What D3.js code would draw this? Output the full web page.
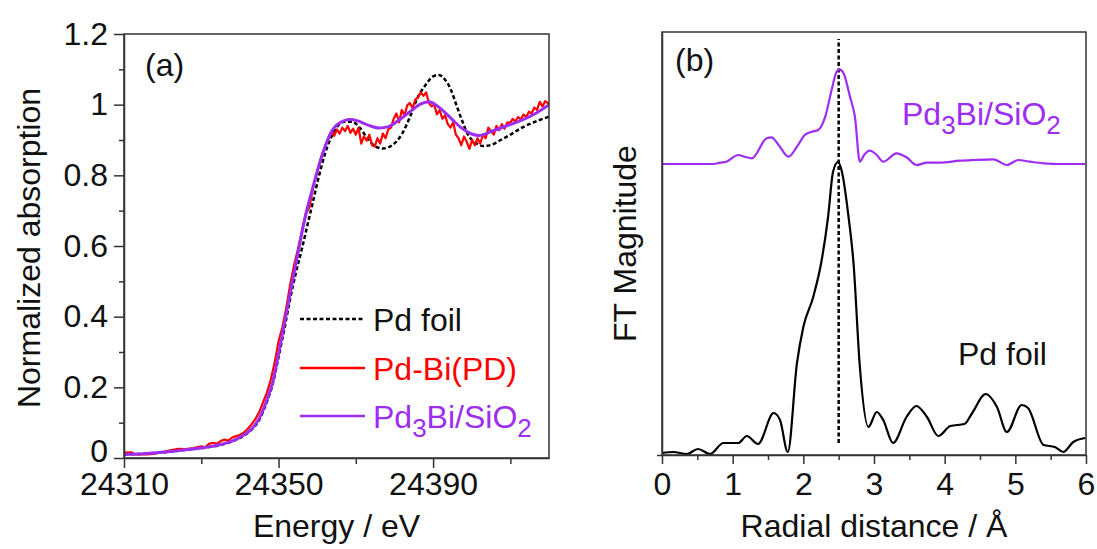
<!DOCTYPE html>
<html lang="en">
<head>
<meta charset="UTF-8">
<title>Pd K-edge XANES and FT-EXAFS</title>
<style>
  body, html { margin: 0; padding: 0; background: #fff; }
  svg { display: block; }
  text { font-family: "Liberation Sans", Arial, sans-serif; fill: #111; }
  .axis path, .axis line { stroke: #333; stroke-width: 1.5px; }
  .axis text { font-size: 32px; font-family: "Liberation Sans", Arial, sans-serif; fill: #111; }
  .frame { fill: none; stroke: #333; stroke-width: 1.5px; }
</style>
</head>
<body>
<script src="https://cdn.jsdelivr.net/npm/d3@7"></script>
<script>
// ---- panel (a): XANES ----
const foilE = [24310, 24315, 24320, 24325, 24330, 24335, 24338, 24341, 24343, 24345, 24347, 24348.5, 24350, 24351.5, 24353, 24354.5, 24356, 24357.5, 24359, 24360.5, 24362, 24363.5, 24365, 24367, 24369, 24371, 24373, 24375, 24377, 24379.5, 24382, 24384, 24386, 24388, 24390, 24391.5, 24393, 24394.5, 24396, 24397.5, 24399, 24401, 24403, 24405, 24407.5, 24410, 24413, 24416.5, 24420];
const foilMu = [0.010, 0.012, 0.016, 0.022, 0.028, 0.037, 0.047, 0.063, 0.080, 0.108, 0.160, 0.210, 0.285, 0.365, 0.450, 0.525, 0.590, 0.660, 0.730, 0.800, 0.860, 0.905, 0.935, 0.952, 0.952, 0.935, 0.905, 0.882, 0.876, 0.886, 0.918, 0.965, 1.020, 1.055, 1.080, 1.084, 1.072, 1.045, 1.000, 0.955, 0.916, 0.892, 0.883, 0.886, 0.900, 0.915, 0.935, 0.952, 0.966];

const pdbiE = [24310, 24311, 24312, 24313, 24316, 24318, 24320, 24322, 24324, 24326, 24328, 24330, 24331, 24332, 24333, 24334, 24335, 24336, 24337, 24338, 24339, 24340, 24341, 24342, 24343, 24344, 24345, 24346, 24347, 24348, 24349, 24350, 24351, 24352, 24353, 24354, 24355, 24356, 24357, 24358, 24359, 24360, 24361, 24362, 24363, 24363.7, 24364.4, 24365.1, 24365.8, 24366.5, 24367.2, 24367.9, 24368.6, 24369.3, 24370, 24370.7, 24371.4, 24372.1, 24372.8, 24373.5, 24374.2, 24374.9, 24375.6, 24376.3, 24377, 24377.7, 24378.4, 24379.1, 24379.8, 24380.5, 24381.2, 24381.9, 24382.6, 24383.3, 24384, 24384.7, 24385.4, 24386.1, 24386.8, 24387.5, 24388.2, 24388.9, 24389.6, 24390.3, 24391, 24391.7, 24392.4, 24393.1, 24393.8, 24394.5, 24395.2, 24395.9, 24396.6, 24397.3, 24398, 24398.7, 24399.4, 24400.1, 24400.8, 24401.5, 24402.2, 24402.9, 24403.6, 24404.3, 24405, 24405.7, 24406.4, 24407.1, 24407.8, 24408.5, 24409.2, 24409.9, 24410.6, 24411.3, 24412, 24412.7, 24413.4, 24414.1, 24414.8, 24415.5, 24416.2, 24416.9, 24417.6, 24418.3, 24419, 24420];
const pdbiMu = [0.016, 0.015, 0.016, 0.010, 0.010, 0.012, 0.017, 0.022, 0.026, 0.025, 0.028, 0.033, 0.030, 0.040, 0.043, 0.040, 0.048, 0.052, 0.049, 0.058, 0.062, 0.065, 0.072, 0.082, 0.095, 0.110, 0.130, 0.158, 0.185, 0.222, 0.270, 0.330, 0.370, 0.425, 0.490, 0.545, 0.590, 0.640, 0.690, 0.710, 0.770, 0.810, 0.850, 0.880, 0.905, 0.925, 0.912, 0.930, 0.918, 0.935, 0.925, 0.940, 0.920, 0.932, 0.915, 0.935, 0.890, 0.910, 0.898, 0.915, 0.885, 0.882, 0.905, 0.890, 0.918, 0.905, 0.930, 0.935, 0.960, 0.975, 0.950, 0.985, 0.970, 0.998, 1.005, 0.990, 1.015, 1.020, 1.035, 1.025, 1.035, 1.005, 0.995, 1.000, 0.972, 0.985, 0.960, 0.970, 0.945, 0.935, 0.950, 0.915, 0.905, 0.885, 0.910, 0.895, 0.875, 0.900, 0.885, 0.905, 0.890, 0.915, 0.905, 0.935, 0.925, 0.915, 0.940, 0.928, 0.945, 0.932, 0.950, 0.948, 0.960, 0.952, 0.965, 0.958, 0.972, 0.965, 0.980, 0.975, 0.992, 0.985, 1.008, 0.995, 1.010, 1.002];

const pd3biE = [24310, 24315, 24320, 24325, 24330, 24335, 24338, 24341, 24343, 24345, 24347, 24348.5, 24350, 24351.5, 24353, 24354.5, 24356, 24357.5, 24359, 24360.5, 24362, 24363.5, 24365, 24367, 24368.5, 24370.5, 24373, 24376, 24378.5, 24381, 24384, 24387, 24389, 24391, 24394, 24397, 24400, 24402, 24405, 24409, 24413, 24416.5, 24420];
const pd3biMu = [0.010, 0.012, 0.016, 0.022, 0.028, 0.038, 0.048, 0.065, 0.082, 0.112, 0.165, 0.215, 0.295, 0.380, 0.466, 0.550, 0.635, 0.710, 0.770, 0.830, 0.880, 0.920, 0.942, 0.955, 0.958, 0.954, 0.943, 0.934, 0.938, 0.955, 0.980, 1.003, 1.008, 0.997, 0.968, 0.937, 0.917, 0.913, 0.924, 0.940, 0.956, 0.975, 1.000];

const xTicksA = [24310, 24350, 24390];
const xMinorA = [24330, 24370, 24410];
const yTicksA = [0, 0.2, 0.4, 0.6, 0.8, 1.0, 1.2];
const yTickLabelsA = ["0", "0.2", "0.4", "0.6", "0.8", "1", "1.2"];
const yMinorA = [0.1, 0.3, 0.5, 0.7, 0.9, 1.1];

// ---- panel (b): FT magnitude (arbitrary units) ----
const foilR = [0.0, 0.16, 0.35, 0.51, 0.68, 0.87, 1.08, 1.20, 1.36, 1.58, 1.67, 1.78, 1.91, 2.00, 2.14, 2.26, 2.35, 2.42, 2.49, 2.54, 2.64, 2.71, 2.80, 2.92, 3.04, 3.13, 3.27, 3.46, 3.60, 3.75, 3.91, 4.08, 4.28, 4.39, 4.58, 4.74, 4.88, 5.09, 5.18, 5.40, 5.56, 5.68, 5.82, 5.99];
const foilFT = [0.02, 0.03, 0.01, 0.06, 0.01, 0.12, 0.12, 0.19, 0.11, 0.42, 0.35, 0.03, 0.92, 1.28, 1.58, 1.95, 2.38, 2.83, 2.93, 2.85, 2.38, 1.92, 0.88, 0.28, 0.43, 0.35, 0.12, 0.38, 0.49, 0.38, 0.19, 0.29, 0.31, 0.42, 0.61, 0.48, 0.23, 0.50, 0.47, 0.10, 0.08, 0.03, 0.13, 0.17];

const pd3biR = [0.0, 0.73, 0.82, 0.91, 1.08, 1.17, 1.27, 1.48, 1.55, 1.65, 1.79, 1.91, 2.02, 2.12, 2.21, 2.31, 2.40, 2.47, 2.51, 2.57, 2.66, 2.73, 2.80, 2.86, 2.94, 3.04, 3.13, 3.32, 3.46, 3.60, 3.75, 3.93, 4.22, 4.41, 4.69, 4.88, 5.04, 5.21, 5.40, 5.63, 5.99];
const pd3biFT = [0.0, 0.0, 0.013, 0.023, 0.09, 0.073, 0.057, 0.257, 0.267, 0.19, 0.073, 0.173, 0.29, 0.323, 0.34, 0.473, 0.74, 0.923, 0.947, 0.907, 0.673, 0.473, 0.023, 0.09, 0.133, 0.09, 0.023, 0.107, 0.067, -0.01, 0.013, 0.013, 0.033, 0.04, 0.047, -0.01, 0.04, 0.023, 0.007, 0.0, 0.0];
const pd3biOffset = 2.91;

const peakLine = { r: 2.5, y0: 0.12, y1: 4.16 };

const xTicksB = [0, 1, 2, 3, 4, 5, 6];
const xMinorB = [0.5, 1.5, 2.5, 3.5, 4.5, 5.5];

const black = "#000", red = "#ff0000", purple = "#9d2ef0";

const svg = d3.select("body").append("svg")
    .attr("width", 1097).attr("height", 549);

// ================= panel (a) =================
const A = { l: 124, r: 549, t: 34, b: 458 };
const xA = d3.scaleLinear().domain([24310, 24420]).range([A.l, A.r]);
const yA = d3.scaleLinear().domain([0, 1.2]).range([A.b, A.t]);

svg.append("defs").append("clipPath").attr("id", "clipA")
  .append("rect").attr("x", A.l).attr("y", A.t).attr("width", A.r - A.l).attr("height", A.b - A.t);
svg.select("defs").append("clipPath").attr("id", "clipB")
  .append("rect").attr("x", 662).attr("y", 32).attr("width", 424).attr("height", 423);

const lineA = d3.line().x(d => xA(d[0])).y(d => yA(d[1]));
const gA = svg.append("g").attr("clip-path", "url(#clipA)");

gA.append("path").datum(d3.zip(foilE, foilMu))
    .attr("fill", "none").attr("stroke", black).attr("stroke-width", 2.5)
    .attr("stroke-dasharray", "4,2.5")
    .attr("d", lineA.curve(d3.curveMonotoneX));
gA.append("path").datum(d3.zip(pdbiE, pdbiMu))
    .attr("fill", "none").attr("stroke", red).attr("stroke-width", 2.2)
    .attr("stroke-linejoin", "round")
    .attr("d", d3.line().x(d => xA(d[0])).y(d => yA(d[1])).curve(d3.curveLinear));
gA.append("path").datum(d3.zip(pd3biE, pd3biMu))
    .attr("fill", "none").attr("stroke", purple).attr("stroke-width", 3)
    .attr("d", lineA.curve(d3.curveMonotoneX));

svg.append("rect").attr("class", "frame")
    .attr("x", A.l).attr("y", A.t).attr("width", A.r - A.l).attr("height", A.b - A.t);

svg.append("g").attr("class", "axis").attr("transform", `translate(0,${A.b})`)
    .call(d3.axisBottom(xA).tickValues(xTicksA).tickFormat(d3.format("d"))
      .tickSize(10).tickPadding(4).tickSizeOuter(0));
svg.append("g").attr("class", "axis").attr("transform", `translate(0,${A.b})`)
    .call(d3.axisBottom(xA).tickValues(xMinorA).tickFormat("").tickSize(6).tickSizeOuter(0))
    .select(".domain").remove();
const yAxisA = svg.append("g").attr("class", "axis").attr("transform", `translate(${A.l},0)`)
    .call(d3.axisLeft(yA).tickValues(yTicksA).tickFormat((d, i) => yTickLabelsA[i])
      .tickSize(10).tickPadding(6).tickSizeOuter(0));
// lift the "0" label a little so it clears the x labels
yAxisA.selectAll(".tick text").filter(d => d === 0).attr("dy", "0.12em");
svg.append("g").attr("class", "axis").attr("transform", `translate(${A.l},0)`)
    .call(d3.axisLeft(yA).tickValues(yMinorA).tickFormat("").tickSize(5).tickSizeOuter(0))
    .select(".domain").remove();

svg.append("text").attr("x", (A.l + A.r) / 2).attr("y", 537)
    .attr("text-anchor", "middle").attr("font-size", 32).text("Energy / eV");
svg.append("text").attr("transform", `translate(40,${(A.t + A.b) / 2 + 2}) rotate(-90)`)
    .attr("text-anchor", "middle").attr("font-size", 32).text("Normalized absorption");
svg.append("text").attr("x", 145).attr("y", 76).attr("font-size", 32).text("(a)");

// legend
function subText(sel, parts, color) {
  // parts: [text, isSub]
  parts.forEach(([t, sub], i) => {
    const prevSub = i > 0 && parts[i - 1][1];
    sel.append("tspan").text(t)
      .attr("font-size", sub ? 26 : 32)
      .attr("dy", sub ? 9 : (prevSub ? -9 : 0))
      .attr("fill", color);
  });
}
const legend = [
  { name: [["Pd foil", false]], color: black, dash: "4,2.5", y: 331 },
  { name: [["Pd-Bi(PD)", false]], color: red, dash: null, y: 380 },
  { name: [["Pd", false], ["3", true], ["Bi/SiO", false], ["2", true]], color: purple, dash: null, y: 428 }
];
legend.forEach(d => {
  svg.append("line").attr("x1", 300).attr("x2", 365).attr("y1", d.y - 12).attr("y2", d.y - 12)
    .attr("stroke", d.color).attr("stroke-width", 2.5).attr("stroke-dasharray", d.dash);
  const t = svg.append("text").attr("x", 373).attr("y", d.y).attr("font-size", 32);
  subText(t, d.name, d.color === black ? "#111" : d.color);
});

// ================= panel (b) =================
const B = { l: 662, r: 1086, t: 32, b: 455 };
const xB = d3.scaleLinear().domain([0, 6]).range([B.l, B.r]);
const yB = d3.scaleLinear().domain([0, 4.23]).range([B.b, B.t]);
const gB = svg.append("g").attr("clip-path", "url(#clipB)");

gB.append("line")
    .attr("x1", xB(peakLine.r)).attr("x2", xB(peakLine.r))
    .attr("y1", yB(peakLine.y0)).attr("y2", yB(peakLine.y1))
    .attr("stroke", black).attr("stroke-width", 2.5).attr("stroke-dasharray", "4,2.5");

gB.append("path").datum(d3.zip(foilR, foilFT))
    .attr("fill", "none").attr("stroke", black).attr("stroke-width", 2.2)
    .attr("d", d3.line().x(d => xB(d[0])).y(d => yB(d[1])).curve(d3.curveMonotoneX));
gB.append("path").datum(d3.zip(pd3biR, pd3biFT))
    .attr("fill", "none").attr("stroke", purple).attr("stroke-width", 2.2)
    .attr("d", d3.line().x(d => xB(d[0])).y(d => yB(d[1] + pd3biOffset)).curve(d3.curveMonotoneX));

svg.append("rect").attr("class", "frame")
    .attr("x", B.l).attr("y", B.t).attr("width", B.r - B.l).attr("height", B.b - B.t);

svg.append("g").attr("class", "axis").attr("transform", `translate(0,${B.b})`)
    .call(d3.axisBottom(xB).tickValues(xTicksB).tickFormat(d3.format("d"))
      .tickSize(9).tickPadding(8).tickSizeOuter(0));
svg.append("g").attr("class", "axis").attr("transform", `translate(0,${B.b})`)
    .call(d3.axisBottom(xB).tickValues(xMinorB).tickFormat("").tickSize(5).tickSizeOuter(0))
    .select(".domain").remove();
svg.append("g").attr("class", "axis").attr("transform", `translate(${B.l},0)`)
    .call(d3.axisLeft(yB).tickValues([0]).tickFormat("").tickSize(5).tickSizeOuter(0));

svg.append("text").attr("x", (B.l + B.r) / 2).attr("y", 537)
    .attr("text-anchor", "middle").attr("font-size", 32).text("Radial distance / \u00C5");
svg.append("text").attr("transform", `translate(636,${(B.t + B.b) / 2}) rotate(-90)`)
    .attr("text-anchor", "middle").attr("font-size", 32).text("FT Magnitude");
svg.append("text").attr("x", 675).attr("y", 71).attr("font-size", 32).text("(b)");

const lblB = svg.append("text").attr("x", 902).attr("y", 125).attr("font-size", 32);
subText(lblB, [["Pd", false], ["3", true], ["Bi/SiO", false], ["2", true]], purple);
svg.append("text").attr("x", 958).attr("y", 365).attr("font-size", 32).text("Pd foil");
</script>
</body>
</html>
